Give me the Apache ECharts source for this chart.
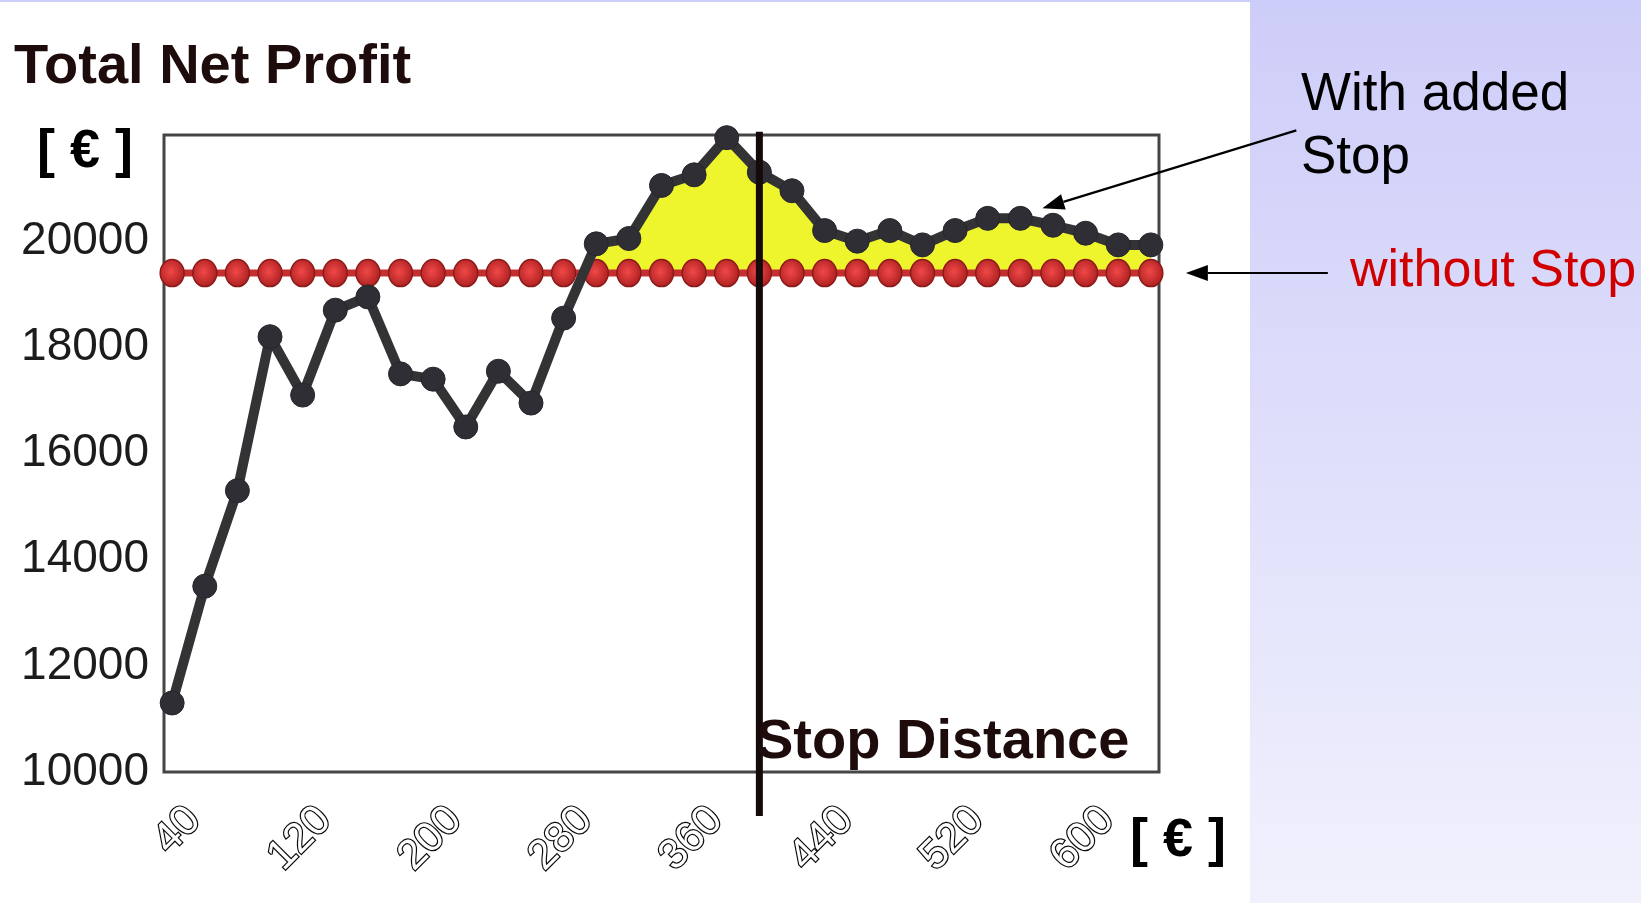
<!DOCTYPE html>
<html>
<head>
<meta charset="utf-8">
<script src="https://cdn.jsdelivr.net/npm/echarts@6/dist/echarts.min.js"></script>
<style>
  html, body { margin: 0; padding: 0; background: #ffffff; }
  #chart { width: 1641px; height: 903px; }
</style>
</head>
<body>
<div id="chart"></div>
<script>
// Stop distance in euro, one point every 20
const stopDistances = [40, 60, 80, 100, 120, 140, 160, 180, 200, 220, 240, 260, 280, 300, 320, 340,
  360, 380, 400, 420, 440, 460, 480, 500, 520, 540, 560, 580, 600, 620, 640];

// Total net profit (euro) with the added stop
const profitWithStop = [11300, 13500, 15300, 18200, 17100, 18700, 18950, 17500, 17400, 16500, 17550,
  16950, 18550, 19950, 20050, 21050, 21250, 21950, 21300, 20950, 20200, 20000, 20200, 19930, 20200,
  20430, 20430, 20300, 20150, 19930, 19930];

// Total net profit (euro) without a stop
const profitWithoutStop = [19400, 19400, 19400, 19400, 19400, 19400, 19400, 19400, 19400, 19400, 19400,
  19400, 19400, 19400, 19400, 19400, 19400, 19400, 19400, 19400, 19400, 19400, 19400, 19400, 19400,
  19400, 19400, 19400, 19400, 19400, 19400];

const xTickLabels = [40, 120, 200, 280, 360, 440, 520, 600];
const yTickLabels = [10000, 12000, 14000, 16000, 18000, 20000];

// Chosen stop distance, marked by the vertical bar
const chosenStop = 400;
const stopBarSpan = [9170, 22060];

const FONT = '"Liberation Sans", Arial, Helvetica, sans-serif';

const withStopPoints = stopDistances.map((x, i) => [x, profitWithStop[i]]);
const withoutStopPoints = stopDistances.map((x, i) => [x, profitWithoutStop[i]]);
// Gain region: only where the stop improves the result
const gainPoints = stopDistances.map((x, i) =>
  profitWithStop[i] > profitWithoutStop[i] ? [x, profitWithStop[i]] : [x, '-']);

const chart = echarts.init(document.getElementById('chart'), null, { renderer: 'canvas' });

chart.setOption({
  animation: false,
  backgroundColor: '#ffffff',
  grid: {
    left: 164, right: 482, top: 135, bottom: 131,
    show: true, backgroundColor: '#ffffff',
    borderColor: '#454545', borderWidth: 3
  },
  xAxis: {
    type: 'value', min: 35, max: 645,
    axisLine: { show: false }, axisTick: { show: false }, splitLine: { show: false },
    axisLabel: {
      customValues: xTickLabels,
      rotate: 45, margin: 20,
      verticalAlign: 'top', lineHeight: 62,
      fontFamily: FONT, fontSize: 42,
      color: '#ffffff', textBorderColor: '#0a0a0a', textBorderWidth: 2.4
    }
  },
  yAxis: {
    type: 'value', min: 10000, max: 22000, interval: 2000,
    axisLine: { show: false }, axisTick: { show: false }, splitLine: { show: false },
    axisLabel: {
      margin: 15, fontFamily: FONT, fontSize: 46, color: '#1c1c1c',
      formatter: v => (yTickLabels.indexOf(v) >= 0 ? String(v) : '')
    }
  },
  series: [
    {
      name: 'gain',
      type: 'line', z: 1,
      data: gainPoints,
      symbol: 'none',
      lineStyle: { width: 0 },
      areaStyle: { color: '#eef52c', opacity: 1, origin: profitWithoutStop[0] }
    },
    {
      name: 'without Stop',
      type: 'line', z: 2,
      data: withoutStopPoints,
      symbol: 'circle', symbolSize: [24, 27],
      lineStyle: { color: '#c43030', width: 7 },
      itemStyle: {
        color: {
          type: 'radial', x: 0.45, y: 0.45, r: 0.6,
          colorStops: [{ offset: 0, color: '#f04848' }, { offset: 1, color: '#a81c1c' }]
        },
        borderColor: '#8a1a1a', borderWidth: 1.5
      }
    },
    {
      name: 'With added Stop',
      type: 'line', z: 3,
      data: withStopPoints,
      symbol: 'circle', symbolSize: 24,
      lineStyle: { color: '#333336', width: 10 },
      itemStyle: { color: '#2e2e34', borderColor: '#26262c', borderWidth: 1 }
    },
    {
      name: 'Stop Distance',
      type: 'line', z: 4, clip: false,
      data: stopBarSpan.map(v => [chosenStop, v]),
      symbol: 'none',
      lineStyle: { color: '#140a0a', width: 7 }
    }
  ]
});

// Annotations placed relative to the plotted series
const toPx = (x, y) => chart.convertToPixel({ gridIndex: 0 }, [x, y]);

function arrow(tail, tip) {
  const dx = tip[0] - tail[0], dy = tip[1] - tail[1];
  const len = Math.hypot(dx, dy), ux = dx / len, uy = dy / len;
  const headLen = 22, headHalf = 8;
  const bx = tip[0] - ux * headLen, by = tip[1] - uy * headLen;
  return [
    { type: 'line', z: 20, shape: { x1: tail[0], y1: tail[1], x2: bx, y2: by },
      style: { stroke: '#000000', lineWidth: 2.2 } },
    { type: 'polygon', z: 20,
      shape: { points: [tip, [bx - uy * headHalf, by + ux * headHalf], [bx + uy * headHalf, by - ux * headHalf]] },
      style: { fill: '#000000' } }
  ];
}

const lastRed = toPx(stopDistances[stopDistances.length - 1], profitWithoutStop[profitWithoutStop.length - 1]);
const blackRef = toPx(stopDistances[26], profitWithStop[26]);

const textStyle = (extra) => Object.assign({ fontFamily: FONT, textVerticalAlign: 'middle' }, extra);

chart.setOption({
  graphic: [
    // slide panel on the right
    { type: 'rect', z: -10, silent: true, shape: { x: 1250, y: 0, width: 391, height: 903 },
      style: { fill: { type: 'linear', x: 0, y: 0, x2: 0, y2: 1,
        colorStops: [{ offset: 0, color: '#cdcdf9' }, { offset: 1, color: '#f1f1fd' }] } } },
    { type: 'rect', z: -10, silent: true, shape: { x: 0, y: 0, width: 1250, height: 2 },
      style: { fill: '#cdcdf9' } },
    { type: 'text', z: 10, style: textStyle({ x: 14, y: 68, text: 'Total Net Profit',
      fontSize: 56, fontWeight: 'bold', fill: '#1e0c0c' }) },
    { type: 'text', z: 10, style: textStyle({ x: 37, y: 152, text: '[ € ]',
      fontSize: 54, fontWeight: 'bold', fill: '#000000' }) },
    { type: 'text', z: 10, style: textStyle({ x: 1130, y: 841, text: '[ € ]',
      fontSize: 54, fontWeight: 'bold', fill: '#000000' }) },
    { type: 'text', z: 10, style: textStyle({ x: 756, y: 743, text: 'Stop Distance',
      fontSize: 56, fontWeight: 'bold', fill: '#1e0c0c' }) },
    { type: 'text', z: 10, style: textStyle({ x: 1301, y: 95, text: 'With added',
      fontSize: 53, fill: '#000000' }) },
    { type: 'text', z: 10, style: textStyle({ x: 1301, y: 158, text: 'Stop',
      fontSize: 53, fill: '#000000' }) },
    { type: 'text', z: 10, style: textStyle({ x: 1350, y: 272, text: 'without Stop',
      fontSize: 52, fill: '#d00000' }) }
  ]
    .concat(arrow([lastRed[0] + 177, lastRed[1]], [lastRed[0] + 35, lastRed[1]]))
    .concat(arrow([blackRef[0] + 276, blackRef[1] - 88], [blackRef[0] + 22, blackRef[1] - 10]))
});
</script>
</body>
</html>
